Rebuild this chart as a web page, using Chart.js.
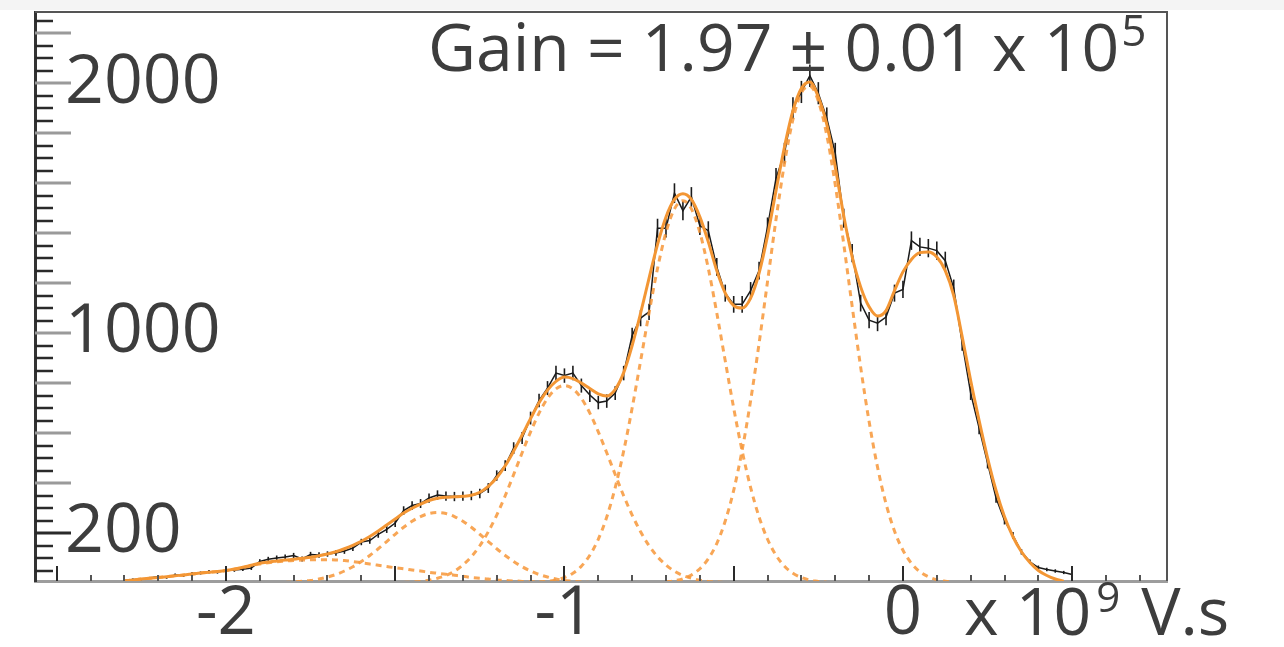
<!DOCTYPE html>
<html>
<head>
<meta charset="utf-8">
<script src="https://cdn.jsdelivr.net/npm/chart.js@4.4.1/dist/chart.umd.min.js"></script>
<style>
  html, body { margin: 0; padding: 0; background: #fff; }
</style>
</head>
<body>
<canvas id="gainChart" width="1284" height="647"></canvas>
<script>
// histogram binning, charge in units of 10^9 V.s
var firstBin = -2.30;
var binWidth = 0.025;

// bin contents (black points with error bars)
var counts = [
  10, 14, 15, 20, 26, 22, 32, 30, 38, 40,
  45, 44, 50, 52, 55, 60, 86, 95, 100, 104,
  110, 96, 114, 112, 116, 120, 128, 140, 164, 170,
  195, 215, 240, 290, 310, 318, 340, 352, 348, 346,
  348, 350, 358, 380, 430, 470, 540, 580, 660, 730,
  780, 840, 830, 840, 790, 752, 722, 728, 760, 840,
  990, 1060, 1085, 1420, 1420, 1560, 1490, 1545, 1430, 1410,
  1265, 1160, 1115, 1115, 1170, 1250, 1425, 1620, 1720, 1900,
  1965, 2030, 1960, 1860, 1720, 1460, 1320, 1120, 1052, 1040,
  1064, 1160, 1175, 1370, 1345, 1340, 1330, 1290, 1180, 960,
  760, 620, 480, 340, 250, 190, 125, 85, 62, 54,
  48, 42, 34
];

// total fit (solid orange)
var fitTotal = [
  8, 12, 16, 19, 22, 25, 29, 32, 36, 40,
  43, 46, 50, 56, 63, 71, 79, 84, 88, 92,
  95, 99, 103, 109, 116, 125, 137, 151, 167, 186,
  208, 232, 256, 280, 299, 316, 330, 339, 343, 345,
  347, 351, 363, 387, 421, 469, 528, 592, 658, 721,
  772, 807, 824, 818, 800, 778, 757, 748, 775, 842,
  950, 1080, 1220, 1355, 1465, 1535, 1558, 1535, 1465, 1365,
  1250, 1160, 1110, 1100, 1140, 1240, 1390, 1570, 1745, 1890,
  1980, 2005, 1945, 1835, 1665, 1470, 1305, 1185, 1105, 1068,
  1090, 1170, 1245, 1295, 1322, 1325, 1305, 1250, 1150, 985,
  810, 650, 500, 370, 265, 185, 125, 82, 50, 30,
  16, 7, null
];

// fit components (dashed orange)
var bkgFrom = -2.30;
var bkg = [
  8, 12, 16, 19, 22, 25, 29, 32, 36, 40,
  43, 46, 50, 55, 62, 69, 76, 81, 85, 88,
  90, 92, 93, 93, 93, 92, 90, 86, 81, 76,
  71, 66, 61, 57, 52, 48, 43, 39, 35, 31,
  27, 22, 19, 16, 12, 10, 8, 6, 5, 4,
  3, 2, 2
];
var pe4From = -1.825;
var pe4 = [
  2, 4, 7, 10, 16, 24, 34, 48, 65, 86, 110, 137, 166, 195, 223, 247, 266, 278,
  282,
  278, 266, 247, 223, 195, 166, 137, 110, 86, 65, 48, 34, 24, 16, 10, 7, 4, 2
];
var pe3From = -1.475;
var pe3 = [
  2, 4, 6, 11, 19, 30, 47, 72, 105, 149, 205, 272, 349, 434, 521, 605, 680, 739, 777,
  790,
  777, 739, 680, 605, 521, 434, 349, 272, 205, 149, 105, 72, 47, 30, 19, 11, 6, 4, 2
];
var pe2From = -1.075;
var pe2 = [
  3, 6, 12, 22, 39, 67, 111, 175, 264, 382, 528, 700, 889, 1081, 1259, 1403, 1497,
  1530,
  1497, 1403, 1259, 1081, 889, 700, 528, 382, 264, 175, 111, 67, 39, 22, 12, 6, 3
];
var pe1From = -0.70;
var pe1 = [
  4, 9, 17, 32, 57, 97, 158, 248, 371, 532, 730, 959, 1207, 1455, 1679, 1855, 1962,
  1988,
  1929, 1792, 1594, 1357, 1107, 864, 646, 463, 317, 208, 131, 79, 45, 25, 13, 7, 3
];

var xTickLabels = [-2, -1, 0];
var yTickLabels = [200, 1000, 2000];

function toPoints(from, values) {
  return values.map(function (v, i) {
    return { x: +(from + i * binWidth).toFixed(3), y: v };
  });
}

var fitColor = '#f39634';
var compColor = 'rgba(247,150,56,0.85)';

function component(label, from, values) {
  return {
    label: label,
    data: toPoints(from, values),
    showLine: true,
    borderColor: compColor,
    borderWidth: 3,
    borderDash: [6, 5],
    pointRadius: 0,
    cubicInterpolationMode: 'monotone',
    order: 1
  };
}

var paper = {
  id: 'paper',
  beforeDraw: function (chart) {
    var ctx = chart.ctx;
    ctx.save();
    ctx.fillStyle = '#ffffff';
    ctx.fillRect(0, 0, chart.width, chart.height);
    ctx.fillStyle = '#f4f4f4';
    ctx.fillRect(0, 0, chart.width, 10);
    ctx.restore();
  }
};

// vertical sqrt(N) error bars on every bin
var errorBars = {
  id: 'errorBars',
  beforeDatasetsDraw: function (chart) {
    var ctx = chart.ctx, a = chart.chartArea;
    var xs = chart.scales.x, ys = chart.scales.y;
    ctx.save();
    ctx.beginPath();
    ctx.rect(a.left, a.top, a.right - a.left, a.bottom - a.top);
    ctx.clip();
    ctx.strokeStyle = '#1b1b1b';
    ctx.lineWidth = 1.6;
    counts.forEach(function (n, i) {
      var c = firstBin + i * binWidth;
      var err = Math.sqrt(n);
      var px = xs.getPixelForValue(c);
      ctx.beginPath();
      ctx.moveTo(px, ys.getPixelForValue(n - err));
      ctx.lineTo(px, ys.getPixelForValue(n + err));
      ctx.stroke();
    });
    ctx.restore();
  }
};

var frameAndTicks = {
  id: 'frameAndTicks',
  afterDraw: function (chart) {
    var ctx = chart.ctx, a = chart.chartArea;
    var xs = chart.scales.x, ys = chart.scales.y;
    ctx.save();
    // top and right frame
    ctx.strokeStyle = '#555555';
    ctx.lineWidth = 2;
    ctx.beginPath();
    ctx.moveTo(a.left, a.top);
    ctx.lineTo(a.right, a.top);
    ctx.lineTo(a.right, a.bottom);
    ctx.stroke();
    // x ticks every 0.1
    ctx.lineWidth = 2;
    for (var t = -25; t <= 7; t++) {
      var px = Math.round(xs.getPixelForValue(t / 10));
      var big = t % 5 === 0;
      ctx.strokeStyle = big ? '#2a2a2a' : '#555555';
      ctx.beginPath();
      ctx.moveTo(px, a.bottom);
      ctx.lineTo(px, a.bottom - (big ? 15 : 6));
      ctx.stroke();
    }
    // y ticks every 50
    for (var v = 50; v <= 2250; v += 50) {
      var py = Math.round(ys.getPixelForValue(v));
      var long = v % 200 === 0;
      ctx.strokeStyle = long ? (v === 200 ? '#2a2a2a' : '#9a9a9a') : '#2a2a2a';
      ctx.lineWidth = long ? 3 : 2.5;
      ctx.beginPath();
      ctx.moveTo(a.left, py);
      ctx.lineTo(a.left + (long ? 36 : 18), py);
      ctx.stroke();
    }
    // texts
    ctx.fillStyle = '#3d3d3d';
    ctx.textBaseline = 'alphabetic';
    ctx.textAlign = 'left';
    ctx.font = '66px "Open Sans"';
    var gain = 'Gain = 1.97 \u00b1 0.01 x 10';
    ctx.fillText(gain, 428, 71);
    var gw = ctx.measureText(gain).width;
    ctx.font = '44px "Open Sans"';
    ctx.fillText('5', 428 + gw + 2, 46);

    ctx.font = '66px "Open Sans"';
    var unit = 'x 10';
    ctx.fillText(unit, 964, 635);
    var uw = ctx.measureText(unit).width;
    ctx.font = '42px "Open Sans"';
    ctx.fillText('9', 964 + uw + 5, 612);
    var nw = ctx.measureText('9').width;
    ctx.font = '66px "Open Sans"';
    ctx.fillText('V.s', 964 + uw + nw + 26, 635);
    ctx.restore();
  }
};

new Chart(document.getElementById('gainChart').getContext('2d'), {
  type: 'scatter',
  data: {
    datasets: [
      {
        label: 'Fit',
        data: toPoints(firstBin, fitTotal),
        showLine: true,
        borderColor: fitColor,
        borderWidth: 3,
        pointRadius: 0,
        cubicInterpolationMode: 'monotone',
        spanGaps: false,
        order: 0
      },
      component('Background', bkgFrom, bkg),
      component('4 p.e.', pe4From, pe4),
      component('3 p.e.', pe3From, pe3),
      component('2 p.e.', pe2From, pe2),
      component('1 p.e.', pe1From, pe1),
      {
        label: 'Data',
        data: toPoints(firstBin, counts),
        showLine: true,
        borderColor: '#1b1b1b',
        borderWidth: 1.5,
        pointRadius: 0,
        tension: 0,
        order: 5
      }
    ]
  },
  options: {
    responsive: false,
    animation: false,
    devicePixelRatio: 1,
    layout: { padding: { left: 35, top: 12, right: 117, bottom: 0 } },
    plugins: { legend: { display: false }, tooltip: { enabled: false } },
    scales: {
      x: {
        type: 'linear',
        min: -2.564,
        max: 0.78,
        afterBuildTicks: function (s) {
          s.ticks = xTickLabels.map(function (v) { return { value: v }; });
        },
        afterFit: function (s) {
          s.height = 66;
          s.paddingLeft = 0; s.paddingRight = 0;
        },
        grid: { display: false, drawTicks: false },
        border: { display: true, color: '#9d9d9d', width: 3 },
        ticks: {
          autoSkip: false,
          maxRotation: 0,
          padding: 0,
          color: '#3d3d3d',
          font: { family: 'Open Sans', size: 67, lineHeight: 1 },
          callback: function (v) { return String(v); }
        }
      },
      y: {
        type: 'linear',
        min: 8,
        max: 2285,
        afterBuildTicks: function (s) {
          s.ticks = yTickLabels.map(function (v) { return { value: v }; });
        },
        afterFit: function (s) {
          s.width = 0;
          s.paddingTop = 0; s.paddingBottom = 0;
        },
        grid: { display: false, drawTicks: false },
        border: { display: true, color: '#333333', width: 3 },
        ticks: {
          mirror: true,
          padding: 30,
          color: '#3d3d3d',
          font: { family: 'Open Sans', size: 68, lineHeight: 1 },
          callback: function (v) { return String(v); }
        }
      }
    }
  },
  plugins: [paper, errorBars, frameAndTicks]
});
</script>
</body>
</html>
